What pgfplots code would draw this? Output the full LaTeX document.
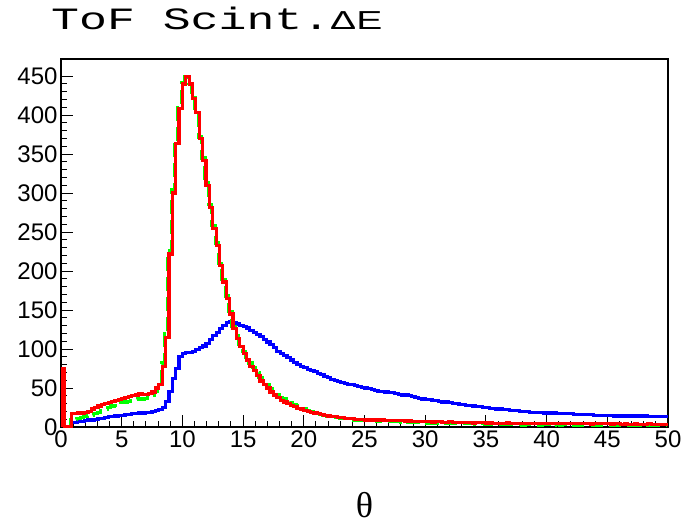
\documentclass[border=0pt]{standalone}
\usepackage{graphicx}
\usepackage{pgfplots}
\usepackage{pgfplotstable}
\pgfplotsset{compat=1.18}
\usepackage{fontspec}
\setmainfont{Liberation Sans}
\newfontfamily\courierfont{Liberation Mono}
\newfontfamily\seriffont{Liberation Serif}
\definecolor{hred}{RGB}{255,0,0}
\definecolor{hgreen}{RGB}{0,255,0}
\definecolor{hblue}{RGB}{0,0,255}
\pgfplotstableread{
i r g b
0 0 0 0
0 75 10 8
1 0 0 0
2 0 0 0
3 17 10 6
4 17 10 6
5 18 11 7
6 18 12 7
7 19 13 8
8 20 14 9
9 23 15 9
10 25 17 10
11 27 19 11
12 29 21 11
13 30 23 12
14 31 25 13
15 33 27 13
16 34 28 14
17 35 30 15
18 37 31 15
19 38 32 16
20 39 33 16
21 40 34 17
22 41 35 17
23 43 36 18
24 42 36 18
25 42 37 19
26 43 38 19
27 45 40 20
28 50 46 21
29 55 56 22
30 78 82 25
31 115 120 33
32 222 226 46
33 300 304 62
34 364 367 75
35 408 410 90
36 440 442 94
37 450 449 96
38 440 441 96
39 421 423 97
40 403 405 99
41 370 372 102
42 342 345 104
43 310 313 107
44 282 285 112
45 255 258 117
46 233 236 121
47 207 210 126
48 186 189 130
49 165 168 134
50 145 148 135
51 126 129 134
52 114 117 132
53 103 106 130
54 94 97 129
55 86 89 127
56 78 82 124
57 72 76 121
58 66 70 119
59 59 64 116
60 54 58 112
61 50 54 109
62 45 49 106
63 41 45 102
64 38 42 97
65 34 38 94
66 32 36 92
67 30 34 89
68 28 31 86
69 26 29 83
70 24 27 80
71 23 25 78
72 21 23 76
73 20 21 74
74 19 20 72
75 18 18 71
76 17 17 69
77 16 16 67
78 15 15 65
79 14 14 63
80 13 13 61
81 13 12 60
82 12 12 58
83 12 11 57
84 11 11 56
85 11 10 55
86 11 10 54
87 10 9 53
88 10 9 52
89 10 9 51
90 9 8 50
91 9 8 49
92 9 8 48
93 9 8 47
94 8 7 46
95 9 8 46
96 8 7 45
97 8 7 44
98 8 7 44
99 8 7 43
100 8 7 42
101 8 6 41
102 7 7 41
103 8 6 40
104 7 6 39
105 7 6 38
106 7 6 37
107 7 6 36
108 7 5 35
109 7 5 35
110 6 5 34
111 7 5 34
112 7 5 33
113 6 4 32
114 6 5 32
115 7 4 31
116 6 4 30
117 6 4 30
118 6 4 29
119 6 4 29
120 6 4 28
121 6 4 28
122 5 4 27
123 6 3 26
124 6 4 26
125 6 4 25
126 5 3 25
127 6 4 24
128 5 3 24
129 5 3 23
130 5 3 23
131 5 3 22
132 6 3 22
133 5 3 21
134 5 3 21
135 5 3 21
136 5 3 20
137 5 2 20
138 4 3 20
139 5 3 19
140 5 3 19
141 5 3 19
142 4 2 19
143 5 3 18
144 4 3 18
145 5 2 18
146 4 2 18
147 4 3 17
148 4 2 17
149 4 3 17
150 5 2 17
151 4 2 17
152 4 2 16
153 4 3 16
154 4 2 16
155 4 2 16
156 4 2 16
157 3 3 16
158 4 2 15
159 4 2 15
160 4 2 15
161 4 2 15
162 4 2 15
163 3 2 15
164 4 2 14
165 4 3 15
166 3 2 14
167 4 2 14
168 3 2 14
169 3 2 14
170 4 2 14
171 3 2 14
172 3 3 13
173 3 2 14
174 4 2 13
175 3 2 13
176 3 2 13
177 3 2 13
178 3 2 13
179 3 2 13
180 3 2 13
}\histdata
\begin{document}
\begin{tikzpicture}
\useasboundingbox (0,0) rectangle (687pt,524pt);
\node[anchor=base west, inner sep=0pt] at (51pt,494pt)
  {\scalebox{1.5}[1]{{\courierfont\fontsize{31}{31}\selectfont ToF Scint.}{\fontsize{26}{26}\selectfont ΔE}}};
\begin{axis}[
  at={(61pt,97pt)}, anchor=south west,
  width=607pt, height=368pt, scale only axis,
  xmin=0, xmax=50, ymin=0, ymax=472,
  xtick={0,5,...,50}, ytick={0,50,...,450},
  minor x tick num=4, minor y tick num=4,
  tick align=inside, tick pos=left,
  major tick length=12pt, minor tick length=6pt,
  axis line style={line width=1.2pt},
  every tick/.style={black, line width=1pt},
  tick label style={font=\fontsize{24}{24}\selectfont},
  /pgf/number format/assume math mode=true,
  xlabel={\seriffont\fontsize{36}{36}\selectfont θ},
  xlabel style={at={(axis description cs:0.5,0)}, anchor=center, yshift=-78pt},
]
\addplot[const plot mark left, hblue, line width=3.2pt] table[x expr=\thisrow{i}*0.27778, y=b] {\histdata};
\addplot[const plot mark left, hgreen, line width=3.2pt, dash pattern=on 14pt off 6pt] table[x expr=\thisrow{i}*0.27778-0.08, y=g] {\histdata};
\addplot[const plot mark left, hred, line width=3.2pt] table[x expr=\thisrow{i}*0.27778, y=r] {\histdata};
\end{axis}
\end{tikzpicture}
\end{document}
